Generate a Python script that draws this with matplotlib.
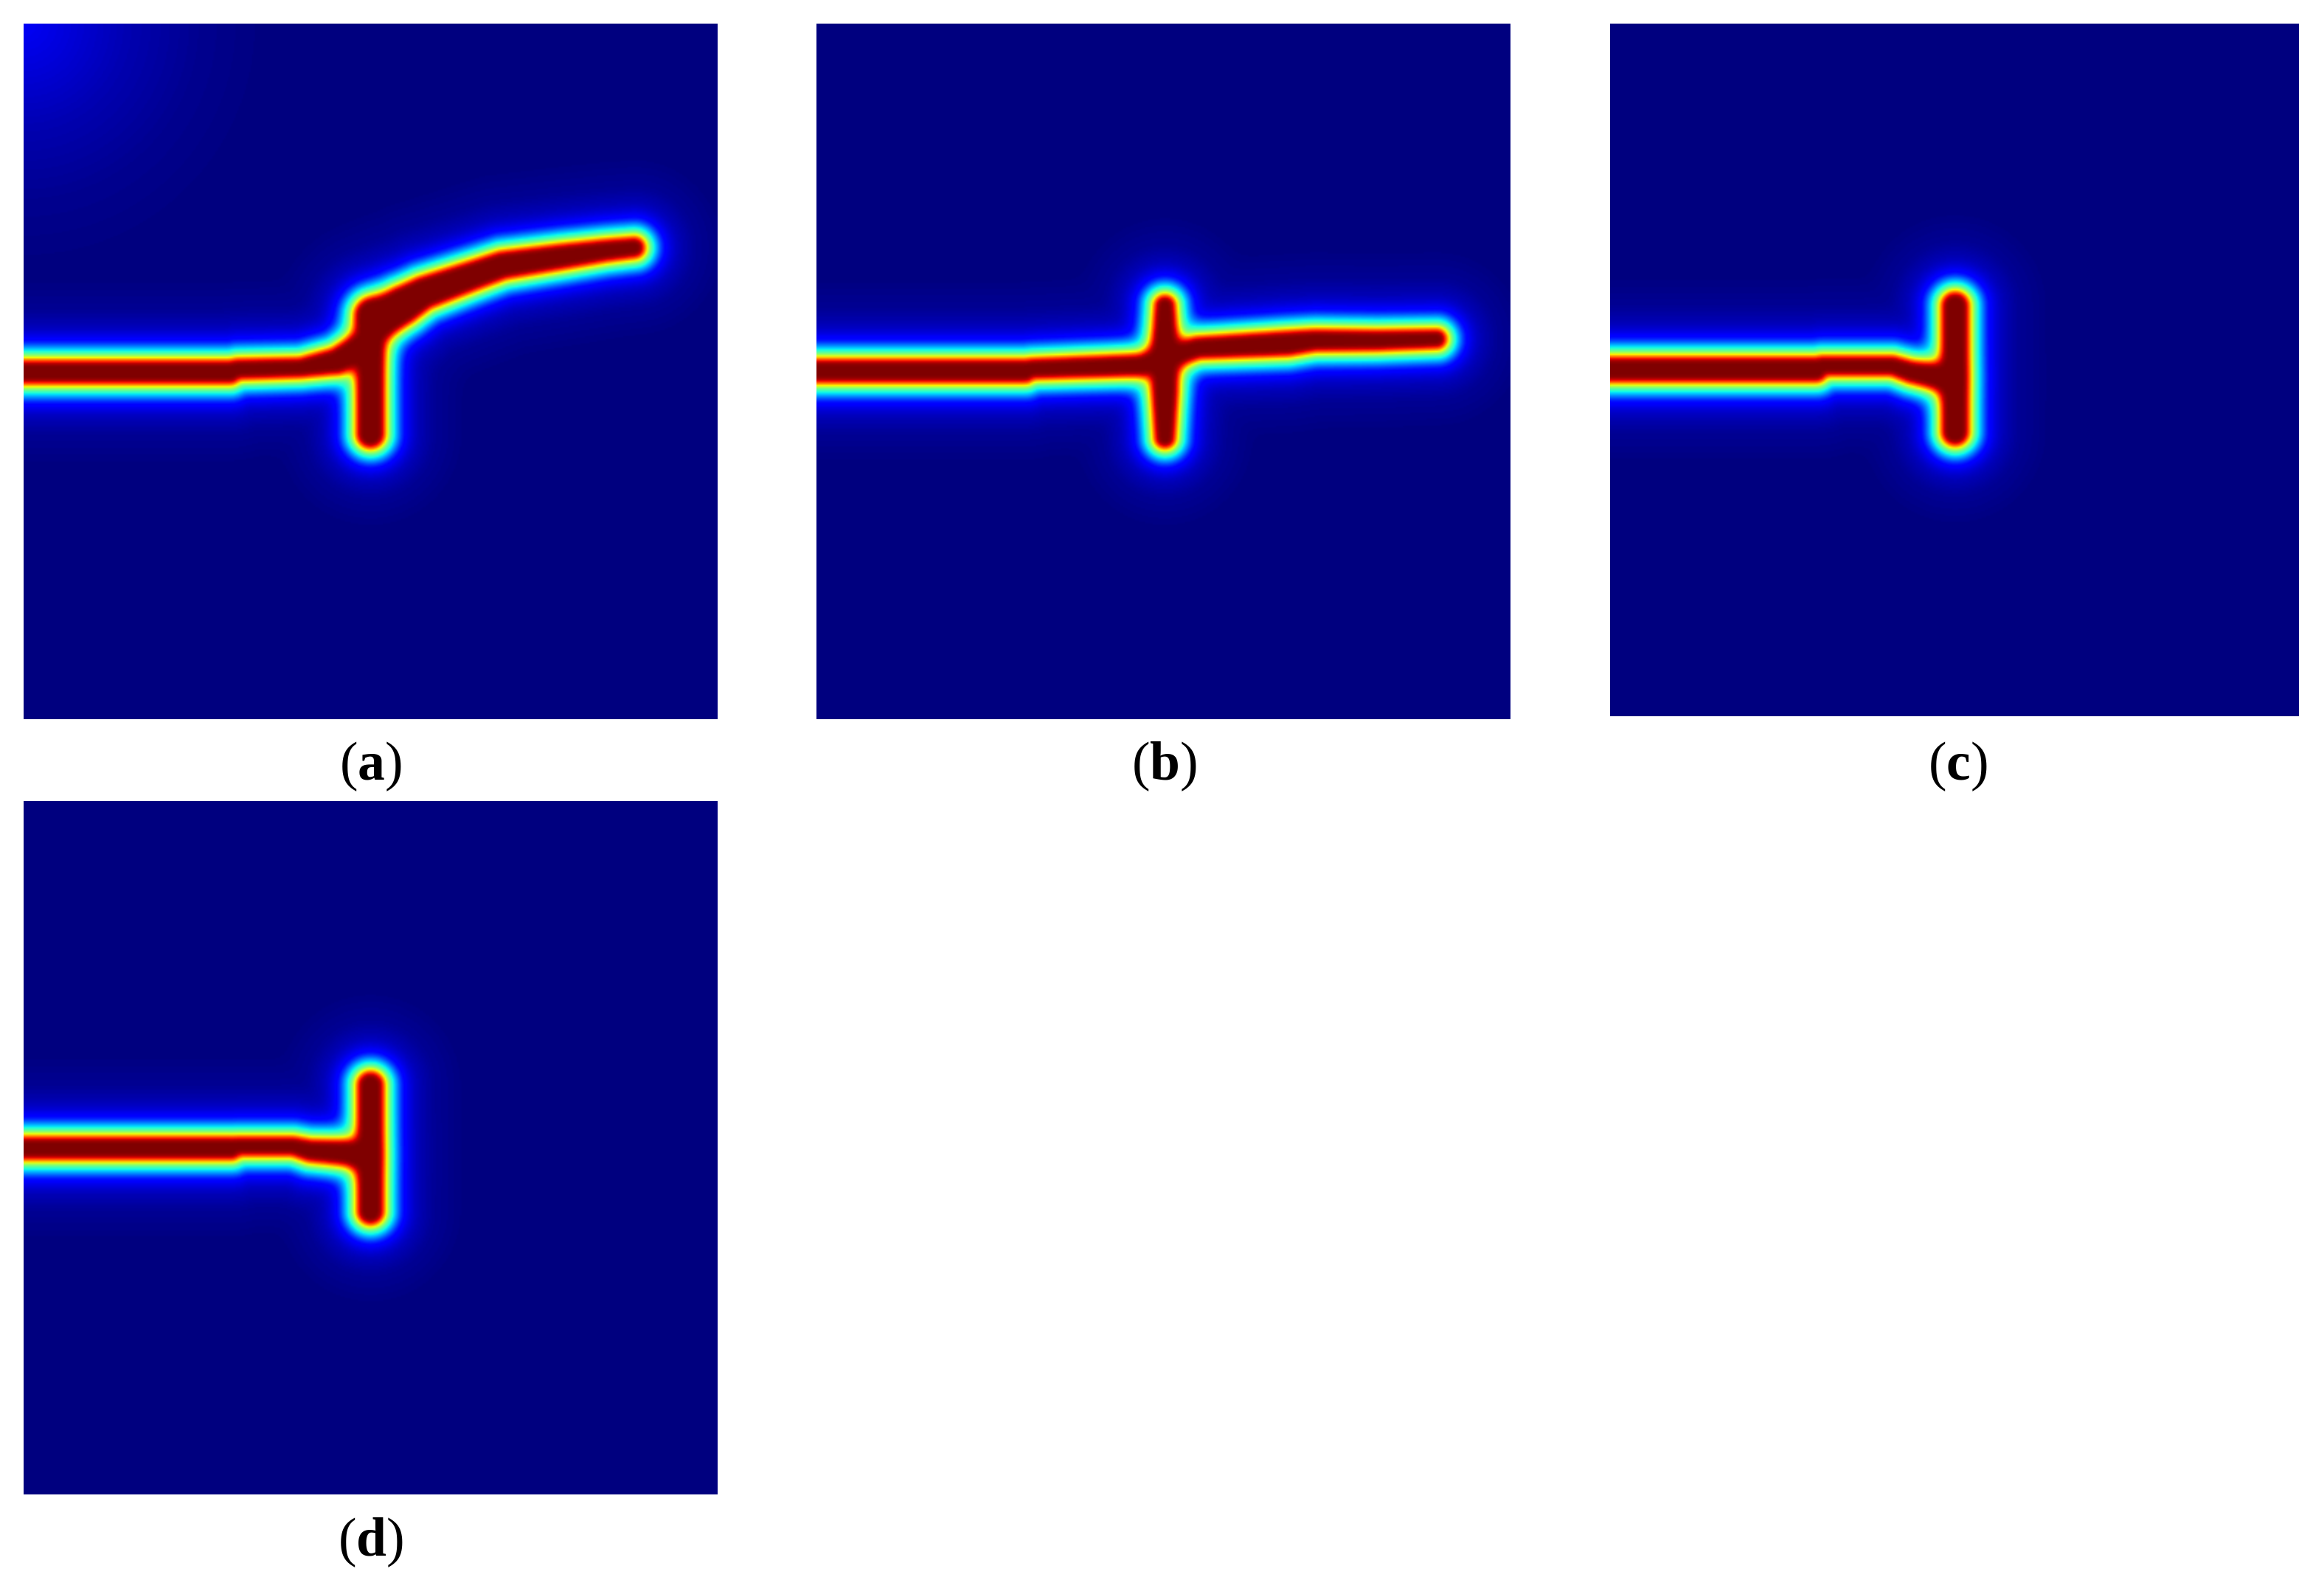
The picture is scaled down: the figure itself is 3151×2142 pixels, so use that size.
import matplotlib
matplotlib.use('Agg')
import matplotlib.pyplot as plt
import numpy as np

W, H = 3151, 2142
plt.rcParams['font.family'] = ['Liberation Serif', 'DejaVu Serif']
plt.rcParams['mathtext.fontset'] = 'custom'
plt.rcParams['mathtext.rm'] = 'Liberation Serif'
plt.rcParams['mathtext.bf'] = 'Liberation Serif:bold'

# crack centre lines: x, y, half width (px inside each panel)
crack_a = [
    [(-20, 473, 9), (280, 473, 9), (290, 469, 7), (376, 467, 6.5), (425, 458, 11), (452, 444, 13)],
    [(471, 395, 12), (471, 557, 12)],
    [(484, 400, 20), (515, 382, 19), (542, 366, 15.5), (610, 342, 13), (650, 328, 12), (733, 316, 10),
     (790, 308, 8), (829, 304, 7)],
]
crack_b = [
    [(-20, 471.5, 9), (283, 471.5, 9), (291, 468.5, 7), (440, 463.7, 8), (456, 460, 8)],
    [(473, 383, 7), (473, 440, 11), (473, 500, 11), (473, 562, 7)],
    [(492, 448, 8), (518, 440, 8), (640, 434, 10), (676, 430, 8), (761, 430, 7), (842, 428, 6)],
]
crack_c = [
    [(-20, 469.5, 10), (279, 469.5, 10), (287, 464.5, 6.5), (383, 464.5, 6.5), (409, 473, 8), (438, 478, 10),
     (450, 480, 11)],
    [(468, 383, 11.5), (468, 554, 11.5)],
]
crack_d = [
    [(-20, 470.7, 8.5), (282, 470.7, 8.5), (289, 468, 6), (366, 468, 6), (389, 474, 8), (438, 477, 10),
     (452, 479, 11)],
    [(471, 385, 11), (471, 556, 11)],
]
cracks = [crack_a, crack_b, crack_c, crack_d]

# value of the field against distance from the edge of the crack
edge_dist = [-100, 0, 3, 6, 10, 14, 19.5, 25, 33, 43, 53, 75, 120]
edge_value = [1, 1, 0.96, 0.89, 0.66, 0.5, 0.38, 0.27, 0.13, 0.08, 0.05, 0.02, 0]

# pale glow in the top left corner of (a)
corner_dist = [0, 60, 140, 240, 340]
corner_value = [0.105, 0.08, 0.045, 0.015, 0]

labels = ['a', 'b', 'c', 'd']
# left, top, right, bottom in px
panels = [(32, 32, 973, 975), (1107, 32, 2048, 975), (2183, 32, 3117, 971), (32, 1086, 973, 2026)]
label_pos = [(502, 1039), (1578, 1039), (2654, 1039), (502, 2091)]


def distance_to_line(xx, yy, line):
    best = np.full(xx.shape, 1e9)
    for (x0, y0, r0), (x1, y1, r1) in zip(line[:-1], line[1:]):
        dx, dy = x1 - x0, y1 - y0
        t = np.clip(((xx - x0) * dx + (yy - y0) * dy) / (dx * dx + dy * dy), 0, 1)
        d = np.hypot(xx - x0 - t * dx, yy - y0 - t * dy) - (r0 + (r1 - r0) * t)
        best = np.minimum(best, d)
    return best


def distance_to_crack(xx, yy, lines, k=7.0):
    # soft minimum, so the branches meet with a rounded corner
    ds = np.array([distance_to_line(xx, yy, line) for line in lines])
    low = ds.min(axis=0)
    return low - k * np.log(np.exp(-(ds - low) / k).sum(axis=0))


def blur(a, n):
    kernel = np.ones(n) / n
    for axis in (0, 1):
        pad = [(n, n) if i == axis else (0, 0) for i in (0, 1)]
        a = np.pad(a, pad, mode='edge')
        a = np.apply_along_axis(lambda m: np.convolve(m, kernel, mode='same'), axis, a)
        a = a[n:-n, :] if axis == 0 else a[:, n:-n]
    return a


fig = plt.figure(figsize=(W / 100, H / 100), dpi=100)
for i, (left, top, right, bottom) in enumerate(panels):
    ax = fig.add_axes([left / W, 1 - bottom / H, (right - left) / W, (bottom - top) / H])
    xs = np.arange(0, right - left, 2) + 1.0
    ys = np.arange(0, bottom - top, 2) + 1.0
    xx, yy = np.meshgrid(xs, ys)
    field = np.interp(distance_to_crack(xx, yy, cracks[i]), edge_dist, edge_value)
    field = blur(field, 5)
    if i == 0:
        field = np.maximum(field, np.interp(np.hypot(xx, yy), corner_dist, corner_value))
    ax.imshow(field, cmap='jet', vmin=0, vmax=1, aspect='auto', interpolation='bilinear',
              extent=(0, right - left, bottom - top, 0))
    ax.axis('off')
    x, y = label_pos[i]
    fig.text(x / W, 1 - y / H, r'($\mathbf{%s}$)' % labels[i], ha='center', va='center', fontsize=53, color='black')

fig.savefig('out.png', dpi=100, facecolor='white')
